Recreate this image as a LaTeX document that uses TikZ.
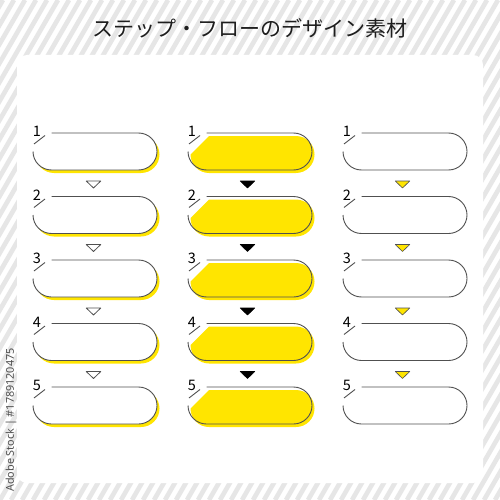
\documentclass[tikz,border=0pt]{standalone}
\usepackage{fontspec}
\newfontfamily\jpfont{Noto Sans CJK JP}
\newfontfamily\wmfont{Noto Sans}
\definecolor{yel}{HTML}{FFE500}
\definecolor{stripecol}{HTML}{E6E6E6}
\definecolor{edgecol}{HTML}{505050}
\definecolor{titlecol}{HTML}{1E1E1E}
\tikzset{
  edge/.style={draw=edgecol, line width=0.9pt},
  num/.style={font=\jpfont\fontsize{14.5}{15}\selectfont, text=black, inner sep=0pt, anchor=base},
  triwhite/.style={draw=edgecol, fill=white, line width=0.8pt, line join=round},
  triblack/.style={draw=black, fill=black, line width=0.6pt, line join=round},
  triyellow/.style={draw=edgecol, fill=yel, line width=0.6pt, line join=round}
}
\newcommand\openbox[2]{%
  \draw[edge] (#1+18.5,#2) -- (#1+105.5,#2) arc(-90:90:18.5) -- (#1+18.5,#2+37) arc(90:180:18.5);
  \draw[edge] (#1+1,#2+11) -- (#1+12,#2+2.5);
}
\newcommand\shadowbox[2]{%
  \fill[yel] (#1+21,#2+3) -- (#1+108,#2+3) arc(-90:90:18.5) -- (#1+21,#2+40) arc(90:270:18.5) -- cycle;
  \fill[white] (#1+18.5,#2) -- (#1+105.5,#2) arc(-90:90:18.5) -- (#1+18.5,#2+37) arc(90:270:18.5) -- cycle;
}
\newcommand\chamferbox[2]{%
  \fill[yel] (#1+21,#2+3) -- (#1+108,#2+3) arc(-90:90:18.5) -- (#1+21,#2+40) arc(90:180:18.5) -- cycle;
}
\newcommand\tri[3]{%
  \draw[#3] (#1-7.25,#2) -- (#1+7.25,#2) -- (#1,#2+7) -- cycle;
}
\begin{document}
\begin{tikzpicture}[x=1pt,y=-1pt]
\useasboundingbox (0,0) rectangle (500,500);
\fill[white] (0,0) rectangle (500,500);
\begin{scope}
  \clip (0,0) rectangle (500,500);
  \foreach \i in {-30,...,48}
    \draw[stripecol, line width=4.6pt] (\i*11,500) -- ++(289,-500);
\end{scope}
\fill[white, rounded corners=10pt] (17,55) rectangle (483,483);

\node[font=\jpfont\fontsize{21}{21}\selectfont, text=titlecol, inner sep=0pt] (title) at (250,28) {ステップ・フローのデザイン素材};

\node[font=\wmfont\fontsize{10.8}{11}\selectfont, text=edgecol, rotate=90, inner sep=0pt] (stock) at (11,420) {Adobe Stock | \#1789120475};

\foreach \r in {1,...,5}{
  \pgfmathsetmacro\ty{133+63.5*(\r-1)}
  % column 1
  \shadowbox{33}{\ty}
  \openbox{33}{\ty}
  \node[num] (a\r) at (37,\ty+3.5) {\r};
  % column 2
  \chamferbox{188}{\ty}
  \openbox{188}{\ty}
  \node[num] (b\r) at (192,\ty+3.5) {\r};
  % column 3
  \openbox{343}{\ty}
  \node[num] (c\r) at (347,\ty+3.5) {\r};
}
\foreach \r in {1,...,4}{
  \pgfmathsetmacro\ty{133+63.5*(\r-1)+48}
  \coordinate (ta\r) at (93.5,\ty);
  \coordinate (tb\r) at (247.5,\ty);
  \coordinate (tc\r) at (402.5,\ty);
  \tri{93.5}{\ty}{triwhite}
  \tri{247.5}{\ty}{triblack}
  \tri{402.5}{\ty}{triyellow}
}
\end{tikzpicture}
\end{document}
